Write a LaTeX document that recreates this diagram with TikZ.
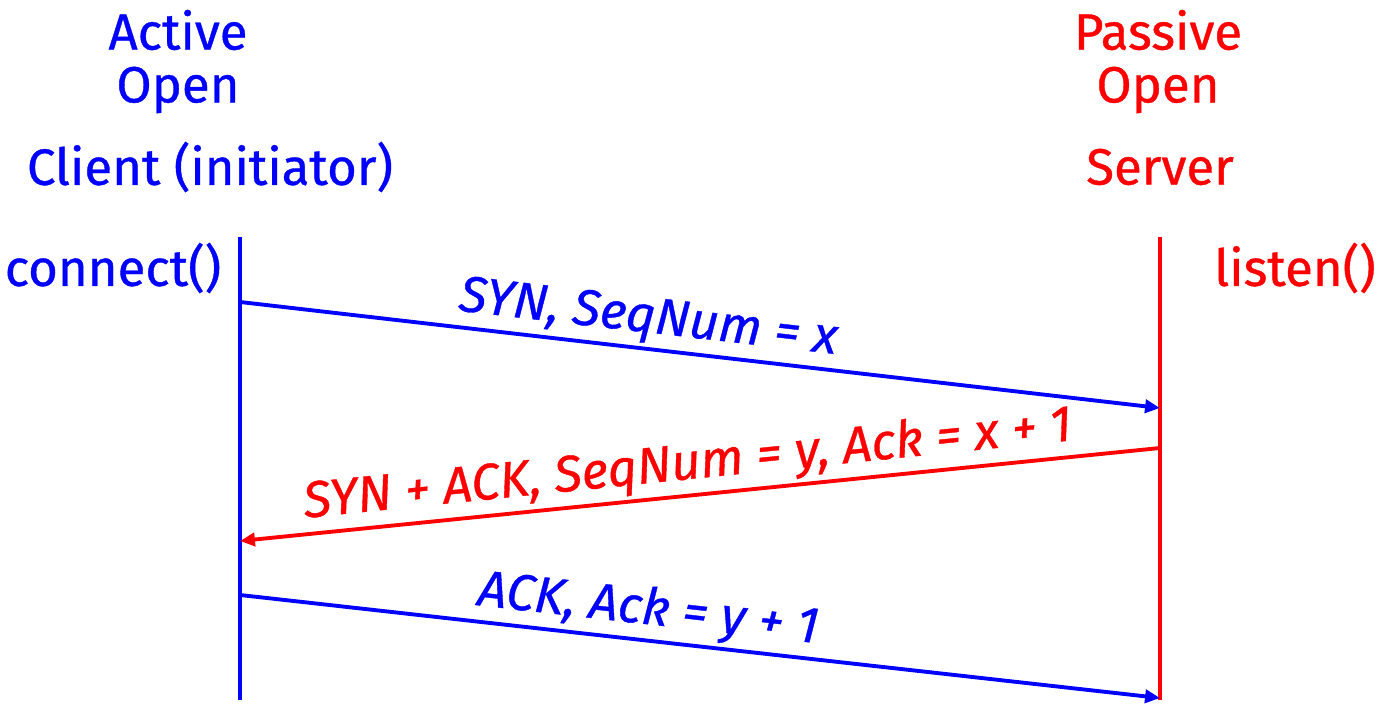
\documentclass[tikz,border=0pt]{standalone}
\usepackage{fontspec}
\setmainfont{Fira Sans}[FakeBold=0.7]
\usepackage{tikz}
\usetikzlibrary{arrows.meta, positioning}

\definecolor{cblue}{RGB}{0,0,255}
\definecolor{cred}{RGB}{255,0,0}

\begin{document}
\begin{tikzpicture}[x=0.02cm, y=-0.02cm, >={Triangle[length=8.5pt,width=7.5pt]},
  lifeline/.style={line width=2.8pt},
  msg/.style={line width=2.2pt, ->},
  lbl/.style={font=\fontsize{29}{34}\selectfont, inner sep=1pt},
  msglbl/.style={font=\fontsize{29}{34}\selectfont\itshape, sloped, above, inner sep=2pt}
]
  \useasboundingbox (0,0) rectangle (1377,705);

  % client side
  \node[lbl, cblue] (act)    at (178,30)  {Active};
  \node[lbl, cblue] (aopen)  at (178,90)  {Open};
  \node[lbl, cblue] (client) at (210,167) {Client (initiator)};
  \node[lbl, cblue] (conn)   at (113,268) {connect()};

  % server side
  \node[lbl, cred] (pas)    at (1158,30)  {Passive};
  \node[lbl, cred] (popen)  at (1158,90)  {Open};
  \node[lbl, cred] (server) at (1160,167) {Server};
  \node[lbl, cred] (lis)    at (1295,268) {listen()};

  % lifelines
  \coordinate (ctop) at (240,237);
  \coordinate (cbot) at (240,700);
  \coordinate (stop) at (1160,237);
  \coordinate (sbot) at (1160,700);
  \draw[lifeline, cblue] (ctop) -- (cbot);
  \draw[lifeline, cred] (stop) -- (sbot);

  % message end points
  \coordinate (c1) at (240,302);
  \coordinate (s1) at (1160,408);
  \coordinate (s2) at (1160,448);
  \coordinate (c2) at (240,541);
  \coordinate (c3) at (240,595);
  \coordinate (s3) at (1160,698);

  % handshake
  \draw[msg, cblue] (c1) -- node[msglbl, pos=0.44] {SYN, SeqNum = x} (s1);
  \draw[msg, cred] (s2) -- node[msglbl, pos=0.51] {SYN + ACK, SeqNum = y, Ack = x + 1} (c2);
  \draw[msg, cblue] (c3) -- node[msglbl, pos=0.44] {ACK, Ack = y + 1} (s3);
\end{tikzpicture}
\end{document}
